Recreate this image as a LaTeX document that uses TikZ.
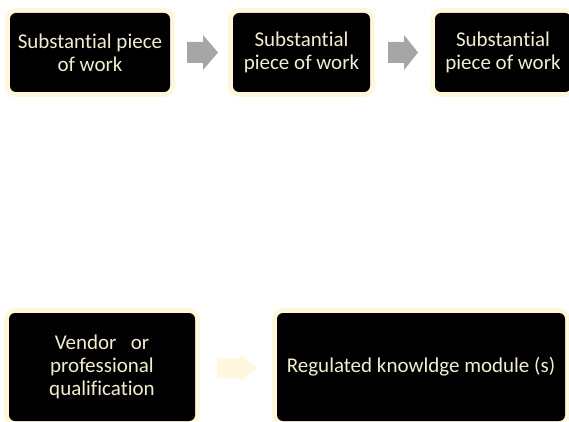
\documentclass[tikz,border=0pt]{standalone}
\usepackage{fontspec}
\setmainfont{Carlito}[Ligatures={NoCommon}]
\definecolor{creamborder}{RGB}{255,247,220}
\definecolor{creamtext}{RGB}{242,237,208}
\definecolor{creamarrow}{RGB}{255,248,222}
\definecolor{grayarrow}{RGB}{166,166,166}
\tikzset{
  blackbox/.style={fill=black, rounded corners=6pt, inner sep=0pt,
    preaction={draw=creamborder, line width=10pt},
    text=creamtext, align=center,
    font=\fontsize{21pt}{23pt}\selectfont},
  grayblock/.style={fill=grayarrow},
  creamblock/.style={fill=creamarrow}
}
\begin{document}
\begin{tikzpicture}[x=1pt,y=-1pt]
\useasboundingbox (0,0) rectangle (569,422);
% top row
\node[blackbox, minimum width=160pt, minimum height=79pt] (a) at (90,52.5) {Substantial piece\\of work};
\node[blackbox, minimum width=137pt, minimum height=79pt] (b) at (301.5,52.5) {Substantial\\piece of work};
\node[blackbox, minimum width=136pt, minimum height=79pt] (c) at (503,52.5) {Substantial\\piece of work};
% gray block arrows
\coordinate (ab) at (202.5,52.5);
\coordinate (bc) at (403,52.5);
\fill[grayblock] ([xshift=-15.5pt,yshift=-10.5pt]ab) -- ([xshift=0.5pt,yshift=-10.5pt]ab) -- ([xshift=0.5pt,yshift=-17.5pt]ab)
  -- ([xshift=15.5pt]ab) -- ([xshift=0.5pt,yshift=17.5pt]ab) -- ([xshift=0.5pt,yshift=10.5pt]ab) -- ([xshift=-15.5pt,yshift=10.5pt]ab) -- cycle;
\fill[grayblock] ([xshift=-15pt,yshift=-10.5pt]bc) -- ([xshift=1pt,yshift=-10.5pt]bc) -- ([xshift=1pt,yshift=-17.5pt]bc)
  -- ([xshift=15pt]bc) -- ([xshift=1pt,yshift=17.5pt]bc) -- ([xshift=1pt,yshift=10.5pt]bc) -- ([xshift=-15pt,yshift=10.5pt]bc) -- cycle;
% bottom row
\node[blackbox, minimum width=186pt, minimum height=108pt] (d) at (102,367) {Vendor\ \ \ or\\professional\\qualification};
\node[blackbox, minimum width=288pt, minimum height=108pt] (e) at (421,367) {Regulated knowldge module (s)};
\coordinate (de) at (237,368);
\fill[creamblock] ([xshift=-20pt,yshift=-10pt]de) -- ([xshift=3pt,yshift=-10pt]de) -- ([xshift=3pt,yshift=-14pt]de)
  -- ([xshift=20pt]de) -- ([xshift=3pt,yshift=14pt]de) -- ([xshift=3pt,yshift=10pt]de) -- ([xshift=-20pt,yshift=10pt]de) -- cycle;
\end{tikzpicture}
\end{document}
